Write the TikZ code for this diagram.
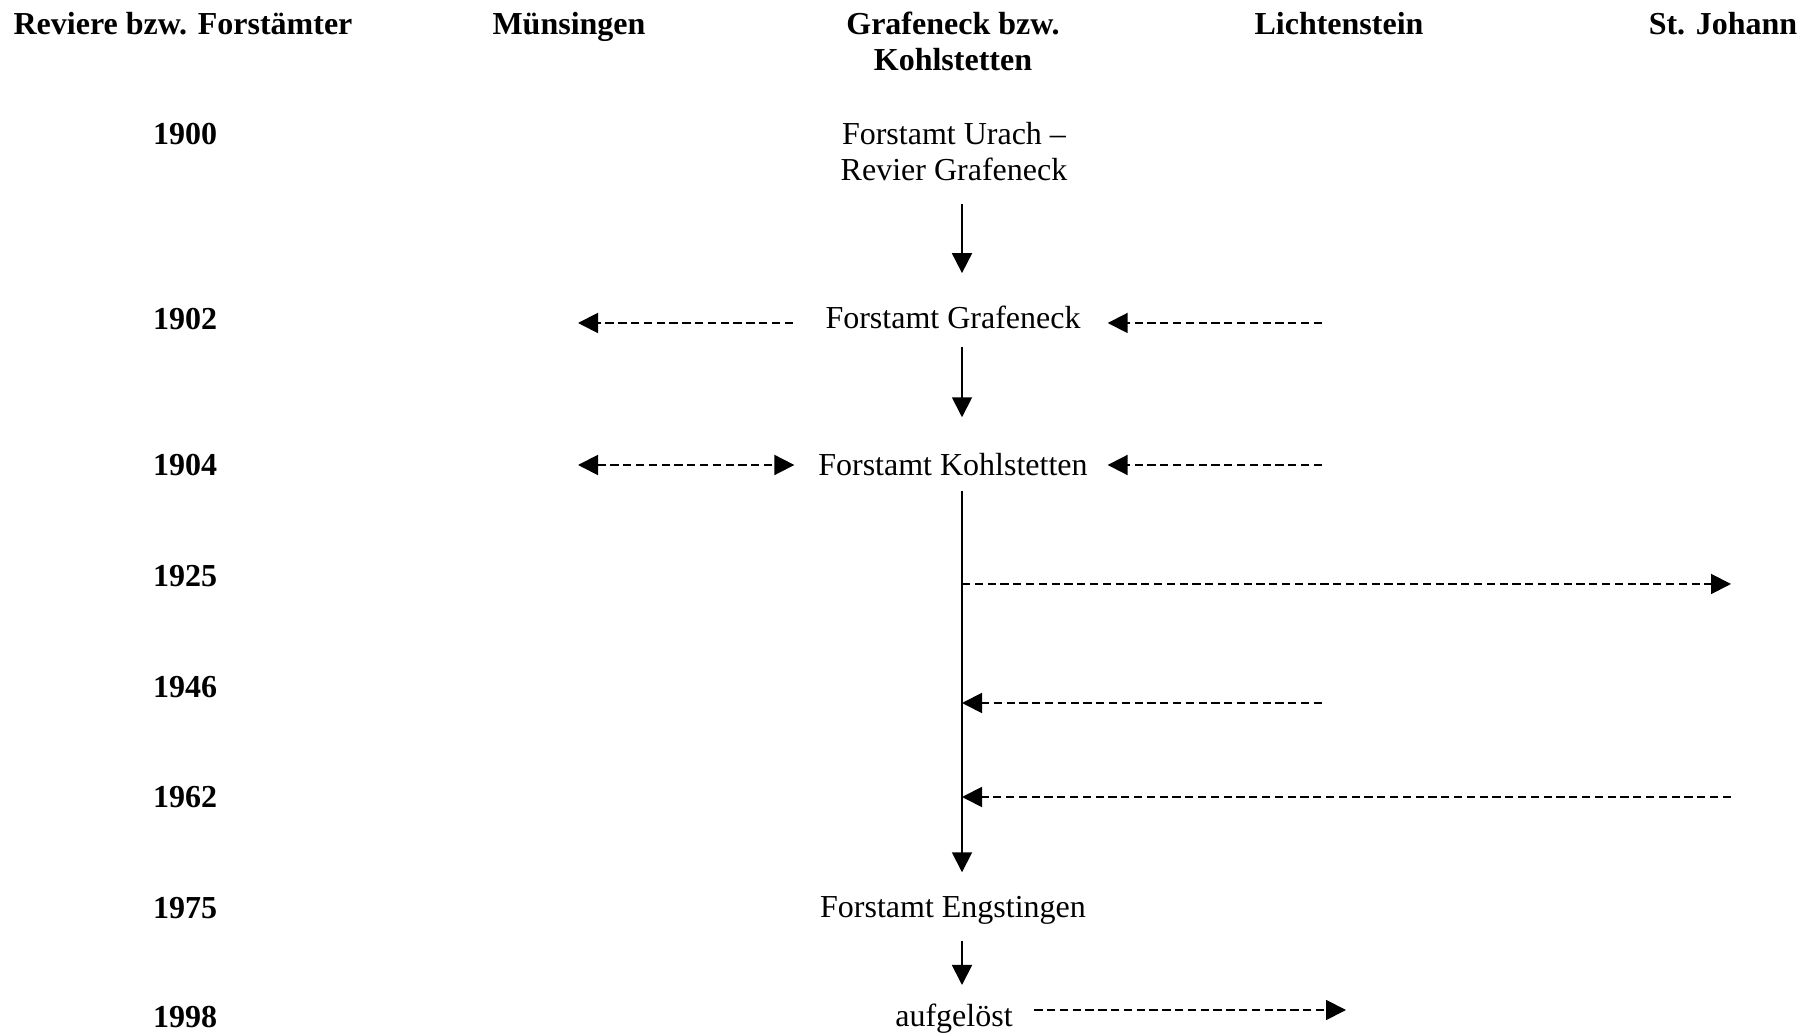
\documentclass[tikz,border=0pt]{standalone}
\usepackage{fontspec}
\setmainfont{Liberation Serif}
\usetikzlibrary{arrows.meta}

\begin{document}
\begin{tikzpicture}[
    x=0.375pt, y=-0.375pt,
    every node/.style={font=\fontsize{12}{13.5}\selectfont, inner sep=0pt, anchor=base},
    colhead/.style={font=\fontsize{12}{13.5}\selectfont\bfseries, align=center},
    yearlab/.style={font=\fontsize{12}{13.5}\selectfont\bfseries},
    box/.style={align=center},
    arrow/.style={->, >={Triangle[length=7.5pt,width=7.5pt]}, line width=0.7pt},
    dasharrow/.style={arrow, dash pattern=on 3.1pt off 1.7pt}
  ]
    \useasboundingbox (0,0) rectangle (1811,1035);

    % column heads (base = last line)
    \node[colhead] (hrev) at (183,35)  {Reviere bzw. Forstämter};
    \node[colhead] (hmue) at (569,35)  {Münsingen};
    \node[colhead] (hgra) at (953,71)  {Grafeneck bzw.\\Kohlstetten};
    \node[colhead] (hlic) at (1339,35) {Lichtenstein};
    \node[colhead] (hjoh) at (1723,35) {St. Johann};

    % years
    \node[yearlab] (y1900) at (185,145)  {1900};
    \node[yearlab] (y1902) at (185,330)  {1902};
    \node[yearlab] (y1904) at (185,476)  {1904};
    \node[yearlab] (y1925) at (185,587)  {1925};
    \node[yearlab] (y1946) at (185,698)  {1946};
    \node[yearlab] (y1962) at (185,808)  {1962};
    \node[yearlab] (y1975) at (185,919)  {1975};
    \node[yearlab] (y1998) at (185,1028) {1998};

    % Forstaemter
    \node[box] (urach)     at (954,181)  {Forstamt Urach --\\Revier Grafeneck};
    \node[box] (grafeneck) at (953,329)  {Forstamt Grafeneck};
    \node[box] (kohl)      at (953,476)  {Forstamt Kohlstetten};
    \node[box] (engst)     at (953,918)  {Forstamt Engstingen};
    \node[box] (aufg)      at (954,1027) {aufgelöst};

    % free ends
    \coordinate (axis)  at (962,0);
    \coordinate (m1902) at (578,323);
    \coordinate (l1902) at (1322,323);
    \coordinate (m1904) at (578,465);
    \coordinate (l1904) at (1322,465);
    \coordinate (j1925) at (1731,584);
    \coordinate (l1946) at (1322,703);
    \coordinate (j1962) at (1731,797);
    \coordinate (l1998) at (1346,1010);

    \draw[arrow, shorten <=8.3pt, shorten >=12.3pt] (urach.south -| axis) -- (grafeneck.north -| axis);
    \draw[arrow, shorten <=6.4pt, shorten >=13.5pt] (grafeneck.south -| axis) -- (kohl.north -| axis);
    \draw[arrow, shorten <=5.3pt, shorten >=9pt] (kohl.south -| axis) -- (engst.north -| axis);
    \draw[arrow, shorten <=5.7pt, shorten >=7.1pt] (engst.south -| axis) -- (aufg.north -| axis);

    \draw[dasharrow, shorten <=12pt] (grafeneck.west |- m1902) -- (m1902);
    \draw[dasharrow, shorten >=10pt] (l1902) -- (grafeneck.east |- l1902);
    \draw[dasharrow, <->, shorten >=8.8pt] (m1904) -- (kohl.west |- m1904);
    \draw[dasharrow, shorten >=7.3pt] (l1904) -- (kohl.east |- l1904);
    \draw[dasharrow] (axis |- j1925) -- (j1925);
    \draw[dasharrow] (l1946) -- (axis |- l1946);
    \draw[dasharrow] (j1962) -- (axis |- j1962);
    \draw[dasharrow, shorten <=7.9pt] (aufg.east |- l1998) -- (l1998);
\end{tikzpicture}
\end{document}
